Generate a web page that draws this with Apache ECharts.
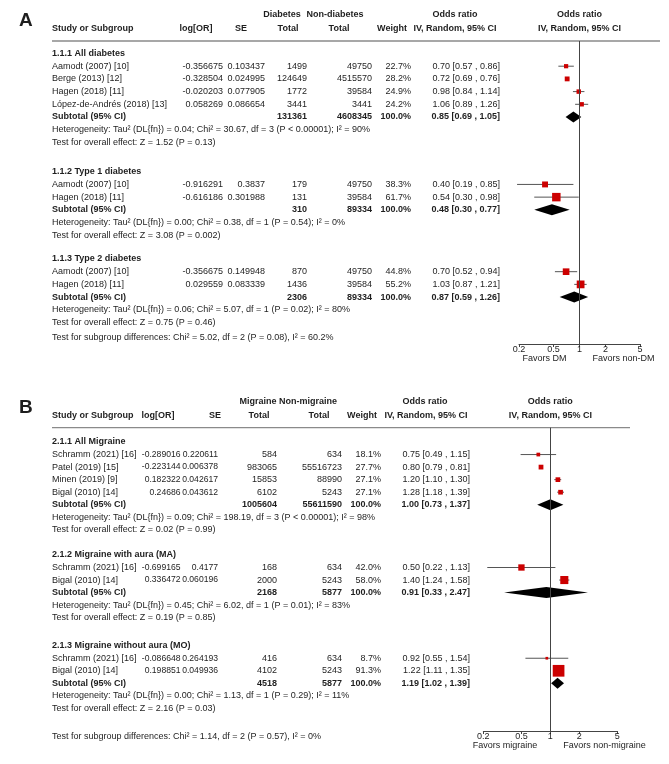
<!DOCTYPE html>
<html><head><meta charset="utf-8">
<script src="https://cdn.jsdelivr.net/npm/echarts@6/dist/echarts.min.js"></script>
<style>html,body{margin:0;padding:0;background:#fff}#c{width:669px;height:764px}</style>
</head><body><div id="c"></div>
<script>
// ================= Panel A data =================
const A_groupTitles = ['1.1.1 All diabetes', '1.1.2 Type 1 diabetes', '1.1.3 Type 2 diabetes'];
const A_studyGroup = [0, 0, 0, 0, 1, 1, 2, 2];
const A_studies = ['Aamodt (2007) [10]', 'Berge (2013) [12]', 'Hagen (2018) [11]', 'López-de-Andrés (2018) [13]',
  'Aamodt (2007) [10]', 'Hagen (2018) [11]', 'Aamodt (2007) [10]', 'Hagen (2018) [11]'];
const A_logOR = [-0.356675, -0.328504, -0.020203, 0.058269, -0.916291, -0.616186, -0.356675, 0.029559];
const A_se = [0.103437, 0.024995, 0.077905, 0.086654, 0.3837, 0.301988, 0.149948, 0.083339];
const A_nCase = [1499, 124649, 1772, 3441, 179, 131, 870, 1436];
const A_nCtrl = [49750, 4515570, 39584, 3441, 49750, 39584, 49750, 39584];
const A_weight = [22.7, 28.2, 24.9, 24.2, 38.3, 61.7, 44.8, 55.2];
const A_or = [0.70, 0.72, 0.98, 1.06, 0.40, 0.54, 0.70, 1.03];
const A_lo = [0.57, 0.69, 0.84, 0.89, 0.19, 0.30, 0.52, 0.87];
const A_hi = [0.86, 0.76, 1.14, 1.26, 0.85, 0.98, 0.94, 1.21];
const A_subCase = [131361, 310, 2306];
const A_subCtrl = [4608345, 89334, 89334];
const A_subOR = [0.85, 0.48, 0.87];
const A_subLo = [0.69, 0.30, 0.59];
const A_subHi = [1.05, 0.77, 1.26];
const A_het = [
  'Heterogeneity: Tau² (DL{fn}) = 0.04; Chi² = 30.67, df = 3 (P < 0.00001); I² = 90%',
  'Heterogeneity: Tau² (DL{fn}) = 0.00; Chi² = 0.38, df = 1 (P = 0.54); I² = 0%',
  'Heterogeneity: Tau² (DL{fn}) = 0.06; Chi² = 5.07, df = 1 (P = 0.02); I² = 80%'];
const A_effect = ['Test for overall effect: Z = 1.52 (P = 0.13)',
  'Test for overall effect: Z = 3.08 (P = 0.002)',
  'Test for overall effect: Z = 0.75 (P = 0.46)'];
const A_subtest = 'Test for subgroup differences: Chi² = 5.02, df = 2 (P = 0.08), I² = 60.2%';
const A_headGroups = ['Diabetes', 'Non-diabetes'];
const A_favors = ['Favors DM', 'Favors non-DM'];

// ================= Panel B data =================
const B_groupTitles = ['2.1.1 All Migraine', '2.1.2 Migraine with aura (MA)', '2.1.3 Migraine without aura (MO)'];
const B_studyGroup = [0, 0, 0, 0, 1, 1, 2, 2];
const B_studies = ['Schramm (2021) [16]', 'Patel (2019) [15]', 'Minen (2019) [9]', 'Bigal (2010) [14]',
  'Schramm (2021) [16]', 'Bigal (2010) [14]', 'Schramm (2021) [16]', 'Bigal (2010) [14]'];
const B_logOR = [-0.289016, -0.223144, 0.182322, 0.24686, -0.699165, 0.336472, -0.086648, 0.198851];
const B_se = [0.220611, 0.006378, 0.042617, 0.043612, 0.4177, 0.060196, 0.264193, 0.049936];
const B_nCase = [584, 983065, 15853, 6102, 168, 2000, 416, 4102];
const B_nCtrl = [634, 55516723, 88990, 5243, 634, 5243, 634, 5243];
const B_weight = [18.1, 27.7, 27.1, 27.1, 42.0, 58.0, 8.7, 91.3];
const B_or = [0.75, 0.80, 1.20, 1.28, 0.50, 1.40, 0.92, 1.22];
const B_lo = [0.49, 0.79, 1.10, 1.18, 0.22, 1.24, 0.55, 1.11];
const B_hi = [1.15, 0.81, 1.30, 1.39, 1.13, 1.58, 1.54, 1.35];
const B_subCase = [1005604, 2168, 4518];
const B_subCtrl = [55611590, 5877, 5877];
const B_subOR = [1.00, 0.91, 1.19];
const B_subLo = [0.73, 0.33, 1.02];
const B_subHi = [1.37, 2.47, 1.39];
const B_het = [
  'Heterogeneity: Tau² (DL{fn}) = 0.09; Chi² = 198.19, df = 3 (P < 0.00001); I² = 98%',
  'Heterogeneity: Tau² (DL{fn}) = 0.45; Chi² = 6.02, df = 1 (P = 0.01); I² = 83%',
  'Heterogeneity: Tau² (DL{fn}) = 0.00; Chi² = 1.13, df = 1 (P = 0.29); I² = 11%'];
const B_effect = ['Test for overall effect: Z = 0.02 (P = 0.99)',
  'Test for overall effect: Z = 0.19 (P = 0.85)',
  'Test for overall effect: Z = 2.16 (P = 0.03)'];
const B_subtest = 'Test for subgroup differences: Chi² = 1.14, df = 2 (P = 0.57), I² = 0%';
const B_headGroups = ['Migraine', 'Non-migraine'];
const B_favors = ['Favors migraine', 'Favors non-migraine'];

const AXIS_TICKS = [0.2, 0.5, 1, 2, 5];

// ================= Layout (positions / styles only) =================
const FONT = '"Liberation Sans", Arial, Helvetica, sans-serif';
const TXT = '#1e1e1e';
const LAYOUT = [
  { label: 'A', labelY: 20.5, y0: 53.5, h: 12.7, gaps: [2.31, 1.87], subGap: 1.17, topPx: 41, axisPx: 344,
    plotLeft: 519, plotWidth: 121, lineRight: 660, numSize: 9,
    col: { study: 52, logOR: 223, se: 265, nCase: 307, nCtrl: 372, weight: 411, orci: 500 },
    head1: { g1: 282, g2: 335, or: 455 }, head2: { logOR: 196, se: 241, t1: 288, t2: 339, weight: 392, or: 455 } },
  { label: 'B', labelY: 408, y0: 442, h: 12.55, gaps: [2.0, 2.23], subGap: 2.2, topPx: 427.7, axisPx: 731,
    plotLeft: 483.3, plotWidth: 134, lineRight: 630, numSize: 8.6,
    col: { study: 52, logOR: 180.5, se: 218, nCase: 277, nCtrl: 342, weight: 381, orci: 470 },
    head1: { g1: 258, g2: 308, or: 425 }, head2: { logOR: 158, se: 215, t1: 259, t2: 319, weight: 362, or: 426 } }
];

const PANELS = [
  { groupTitles: A_groupTitles, studyGroup: A_studyGroup, studies: A_studies, logOR: A_logOR, se: A_se,
    nCase: A_nCase, nCtrl: A_nCtrl, weight: A_weight, or: A_or, lo: A_lo, hi: A_hi,
    subCase: A_subCase, subCtrl: A_subCtrl, subOR: A_subOR, subLo: A_subLo, subHi: A_subHi,
    het: A_het, effect: A_effect, subtest: A_subtest, headGroups: A_headGroups, favors: A_favors },
  { groupTitles: B_groupTitles, studyGroup: B_studyGroup, studies: B_studies, logOR: B_logOR, se: B_se,
    nCase: B_nCase, nCtrl: B_nCtrl, weight: B_weight, or: B_or, lo: B_lo, hi: B_hi,
    subCase: B_subCase, subCtrl: B_subCtrl, subOR: B_subOR, subLo: B_subLo, subHi: B_subHi,
    het: B_het, effect: B_effect, subtest: B_subtest, headGroups: B_headGroups, favors: B_favors }
];

function buildRows(P, L) {
  const rows = []; let slot = 0;
  P.groupTitles.forEach((t, g) => {
    if (g > 0) slot += L.gaps[g - 1];
    rows.push({ kind: 'title', slot, g }); slot++;
    P.studies.forEach((s, i) => { if (P.studyGroup[i] === g) { rows.push({ kind: 'study', slot, i }); slot++; } });
    rows.push({ kind: 'sub', slot, g }); slot++;
    rows.push({ kind: 'het', slot, g }); slot++;
    rows.push({ kind: 'effect', slot, g });
  });
  slot += L.subGap;
  rows.push({ kind: 'subtest', slot });
  return rows;
}

const chart = echarts.init(document.getElementById('c'), null, { renderer: 'canvas' });
const grids = [], xAxes = [], yAxes = [], series = [];
const allRows = [];

PANELS.forEach((P, k) => {
  const L = LAYOUT[k];
  const rows = buildRows(P, L);
  allRows.push(rows);
  grids.push({ left: L.plotLeft, width: L.plotWidth, top: L.topPx, height: L.axisPx - L.topPx, containLabel: false });
  xAxes.push({
    type: 'log', logBase: 10, gridIndex: k, min: 0.2, max: 5, position: 'bottom',
    axisLine: { show: true, onZero: false, lineStyle: { color: '#444', width: 1 } },
    axisTick: { show: true, customValues: AXIS_TICKS, length: 3, lineStyle: { color: '#444', width: 1 } },
    axisLabel: { show: true, customValues: AXIS_TICKS, margin: 1, fontSize: 9, fontFamily: FONT, color: TXT,
      formatter: v => String(+(+v).toPrecision(2)) },
    splitLine: { show: false }, minorTick: { show: false }
  });
  yAxes.push({ type: 'value', gridIndex: k, inverse: true, show: false,
    min: (L.topPx - L.y0) / L.h, max: (L.axisPx - L.y0) / L.h });
  const data = [];
  rows.forEach(r => {
    if (r.kind === 'study') data.push([P.or[r.i], P.lo[r.i], P.hi[r.i], r.slot, P.weight[r.i], 0]);
    if (r.kind === 'sub') data.push([P.subOR[r.g], P.subLo[r.g], P.subHi[r.g], r.slot, 100, 1]);
  });
  series.push({
    type: 'custom', xAxisIndex: k, yAxisIndex: k, coordinateSystem: 'cartesian2d', clip: false, silent: true,
    encode: { x: [0, 1, 2], y: 3 },
    data,
    renderItem: (params, api) => {
      const or = api.value(0), lo = api.value(1), hi = api.value(2), s = api.value(3), w = api.value(4), isSub = api.value(5);
      const c = api.coord([or, s]), l = api.coord([lo, s]), r = api.coord([hi, s]);
      if (isSub) {
        const d = 5.5;
        return { type: 'polygon', shape: { points: [[l[0], c[1]], [c[0], c[1] - d], [r[0], c[1]], [c[0], c[1] + d]] },
          style: { fill: '#000' } };
      }
      const sz = 1.75 + 0.109 * w;
      return { type: 'group', children: [
        { type: 'line', shape: { x1: l[0], y1: c[1], x2: r[0], y2: c[1] }, style: { stroke: '#555', lineWidth: 1 } },
        { type: 'rect', shape: { x: c[0] - sz / 2, y: c[1] - sz / 2, width: sz, height: sz }, style: { fill: '#cc0000' } }
      ] };
    },
    markLine: { silent: true, symbol: 'none', label: { show: false },
      lineStyle: { color: '#444', width: 1, type: 'solid' }, data: [{ xAxis: 1 }] }
  });
});

chart.setOption({ animation: false, backgroundColor: '#fff', grid: grids, xAxis: xAxes, yAxis: yAxes, series });

// ---------- table text (positioned on the same y scale) ----------
const g = [];
function txt(s, x, y, align, bold, size) {
  g.push({ type: 'text', x, y, silent: true,
    style: { text: s, fill: TXT, font: (bold ? 'bold ' : '') + (size || 9) + 'px ' + FONT,
      align: align, verticalAlign: 'middle', textAlign: align, textVerticalAlign: 'middle' } });
}
const fmtCI = (o, l, h) => o.toFixed(2) + ' [' + l.toFixed(2) + ' , ' + h.toFixed(2) + ']';

PANELS.forEach((P, k) => {
  const L = LAYOUT[k];
  const yPx = s => chart.convertToPixel({ xAxisIndex: k, yAxisIndex: k }, [1, s])[1];
  const xOne = chart.convertToPixel({ xAxisIndex: k, yAxisIndex: k }, [1, 0])[0];
  const top = yPx((L.topPx - L.y0) / L.h);
  const axisY = yPx((L.axisPx - L.y0) / L.h);
  // panel letter
  txt(L.label, 19, L.labelY, 'left', true, 19);
  // headers
  const h1 = top - 26, h2 = top - 12.5;
  txt(P.headGroups[0], L.head1.g1, h1, 'center', true);
  txt(P.headGroups[1], L.head1.g2, h1, 'center', true);
  txt('Odds ratio', L.head1.or, h1, 'center', true);
  txt('Odds ratio', xOne, h1, 'center', true);
  txt('Study or Subgroup', L.col.study, h2, 'left', true);
  txt('log[OR]', L.head2.logOR, h2, 'center', true);
  txt('SE', L.head2.se, h2, 'center', true);
  txt('Total', L.head2.t1, h2, 'center', true);
  txt('Total', L.head2.t2, h2, 'center', true);
  txt('Weight', L.head2.weight, h2, 'center', true);
  txt('IV, Random, 95% CI', L.head2.or, h2, 'center', true);
  txt('IV, Random, 95% CI', xOne, h2, 'center', true);
  g.push({ type: 'line', silent: true, shape: { x1: L.col.study, y1: top, x2: L.lineRight, y2: top },
    style: { stroke: '#8a8a8a', lineWidth: 1.3 } });
  // rows
  allRows[k].forEach(r => {
    const y = yPx(r.slot);
    const c = L.col;
    if (r.kind === 'title') txt(P.groupTitles[r.g], c.study, y, 'left', true);
    else if (r.kind === 'study') {
      const i = r.i;
      txt(P.studies[i], c.study, y, 'left', false);
      txt(String(P.logOR[i]), c.logOR, y, 'right', false, L.numSize);
      txt(String(P.se[i]), c.se, y, 'right', false, L.numSize);
      txt(String(P.nCase[i]), c.nCase, y, 'right', false);
      txt(String(P.nCtrl[i]), c.nCtrl, y, 'right', false);
      txt(P.weight[i].toFixed(1) + '%', c.weight, y, 'right', false);
      txt(fmtCI(P.or[i], P.lo[i], P.hi[i]), c.orci, y, 'right', false);
    } else if (r.kind === 'sub') {
      txt('Subtotal (95% CI)', c.study, y, 'left', true);
      txt(String(P.subCase[r.g]), c.nCase, y, 'right', true);
      txt(String(P.subCtrl[r.g]), c.nCtrl, y, 'right', true);
      txt('100.0%', c.weight, y, 'right', true);
      txt(fmtCI(P.subOR[r.g], P.subLo[r.g], P.subHi[r.g]), c.orci, y, 'right', true);
    } else if (r.kind === 'het') txt(P.het[r.g], c.study, y, 'left', false);
    else if (r.kind === 'effect') txt(P.effect[r.g], c.study, y, 'left', false);
    else if (r.kind === 'subtest') txt(P.subtest, c.study, y, 'left', false);
  });
  // favours labels
  txt(P.favors[0], xOne - 13, axisY + 15, 'right', false);
  txt(P.favors[1], xOne + 13, axisY + 15, 'left', false);
});

chart.setOption({ graphic: { elements: g } });
</script></body></html>
